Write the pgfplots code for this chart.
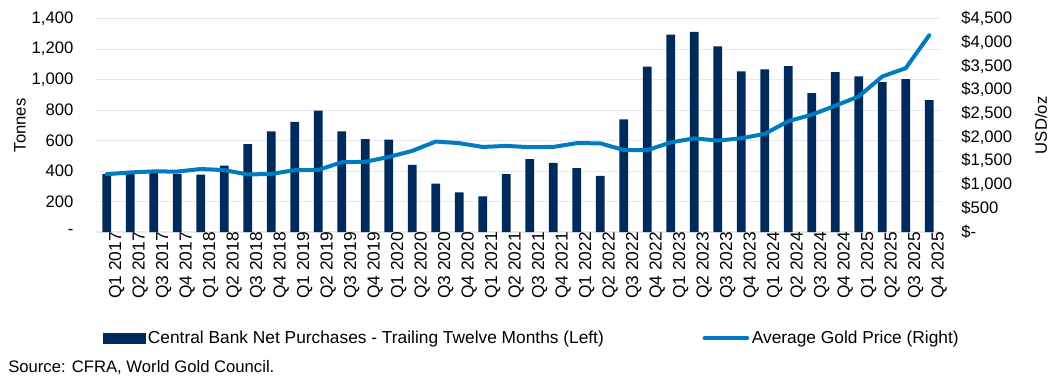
\documentclass[border=0pt]{standalone}
\usepackage{pgfplots}
\pgfplotsset{compat=1.18}
\usepackage{fontspec}
\setmainfont{Liberation Sans}
\definecolor{navy}{RGB}{0,42,92}
\definecolor{goldline}{RGB}{0,122,192}
\definecolor{gridc}{RGB}{230,234,240}
\begin{document}
\begin{tikzpicture}
\path[use as bounding box] (-71.25pt,-111pt) rectangle (719.25pt,174pt);
\pgfplotsset{every axis/.append style={font=\fontsize{12.5}{15}\selectfont}}
\begin{axis}[
  scale only axis, width=634.5pt, height=160pt,
  at={(0,0)}, anchor=south west,
  xmin=-0.5, xmax=35.5, ymin=0, ymax=1400,
  xtick={0,...,35},
  xticklabels={Q1 2017,Q2 2017,Q3 2017,Q4 2017,Q1 2018,Q2 2018,Q3 2018,Q4 2018,Q1 2019,Q2 2019,Q3 2019,Q4 2019,Q1 2020,Q2 2020,Q3 2020,Q4 2020,Q1 2021,Q2 2021,Q3 2021,Q4 2021,Q1 2022,Q2 2022,Q3 2022,Q4 2022,Q1 2023,Q2 2023,Q3 2023,Q4 2023,Q1 2024,Q2 2024,Q3 2024,Q4 2024,Q1 2025,Q2 2025,Q3 2025,Q4 2025},
  xticklabel style={rotate=90, anchor=east, inner sep=0pt, yshift=-7.5pt, font=\fontsize{13}{15}\selectfont},
  ytick={0,200,...,1400},
  yticklabels={-,200,400,600,800,{1,000},{1,200},{1,400}},
  yticklabel style={anchor=east, inner sep=0pt, xshift=-16pt},
  axis line style={draw=none},
  major tick length=0pt,
  ymajorgrids, grid style={gridc, line width=0.8pt},
]
\addplot[ybar, bar width=6.5pt, fill=navy, draw=none] coordinates {
(0,380) (1,387) (2,398) (3,382) (4,376) (5,435) (6,577) (7,660) (8,722) (9,796)
(10,660) (11,610) (12,606) (13,440) (14,317) (15,260) (16,234) (17,380) (18,479) (19,453)
(20,420) (21,369) (22,739) (23,1085) (24,1295) (25,1314) (26,1218) (27,1054) (28,1067) (29,1089)
(30,912) (31,1050) (32,1021) (33,984) (34,1004) (35,866)};
\end{axis}
\begin{axis}[
  scale only axis, width=634.5pt, height=160pt,
  at={(0,0)}, anchor=south west,
  xmin=-0.5, xmax=35.5, ymin=0, ymax=4500,
  axis x line=none,
  axis y line*=right,
  axis line style={draw=none},
  major tick length=0pt,
  ytick={0,500,...,4500},
  yticklabels={\$-,\$500,{\$1,000},{\$1,500},{\$2,000},{\$2,500},{\$3,000},{\$3,500},{\$4,000},{\$4,500}},
  yticklabel style={anchor=west, inner sep=0pt, xshift=15pt},
  legend style={at={(0.517,-0.498)}, anchor=center, draw=none, fill=none, legend columns=2,
    font=\fontsize{13}{15}\selectfont,
    /tikz/every even column/.append style={column sep=72pt},
    nodes={inner sep=2pt}},
  legend cell align=left,
]
\addlegendimage{legend image code/.code={\fill[navy] (0pt,-3.4pt) rectangle (31pt,3.4pt);}}
\addlegendentry{Central Bank Net Purchases - Trailing Twelve Months (Left)}
\addplot[goldline, line width=3pt, line join=round, line cap=round,
  legend image code/.code={\draw[goldline, line width=3pt] (0pt,0pt) -- (32pt,0pt);}] coordinates {
(0,1219) (1,1257) (2,1278) (3,1275) (4,1329) (5,1306) (6,1213) (7,1226) (8,1304) (9,1309)
(10,1472) (11,1481) (12,1583) (13,1711) (14,1909) (15,1874) (16,1794) (17,1816) (18,1790) (19,1795)
(20,1874) (21,1871) (22,1729) (23,1726) (24,1890) (25,1976) (26,1928) (27,1977) (28,2070) (29,2338)
(30,2474) (31,2663) (32,2860) (33,3280) (34,3457) (35,4150)};
\addlegendentry{Average Gold Price (Right)}
\end{axis}
\node[rotate=90, inner sep=0pt, font=\fontsize{12.5}{15}\selectfont] at (-56.25pt,80pt) {Tonnes};
\node[rotate=90, inner sep=0pt, font=\fontsize{12.5}{15}\selectfont] at (709.5pt,80pt) {USD/oz};
\node[anchor=base west, inner sep=0pt, font=\fontsize{12.5}{15}\selectfont] at (-65.25pt,-105pt) {Source: CFRA, World Gold Council.};
\end{tikzpicture}
\end{document}
